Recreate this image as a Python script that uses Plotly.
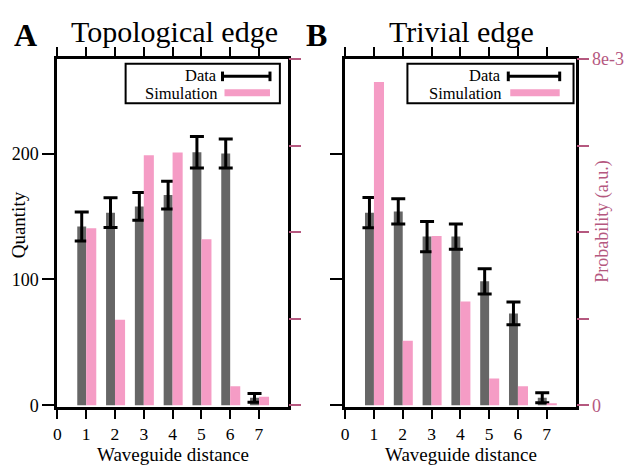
import plotly.graph_objects as go

# ---------------- data ----------------
distance = [1, 2, 3, 4, 5, 6, 7]

topo_counts = [142, 153, 158, 167, 201, 200, 6]
topo_err = [11.5, 11.8, 11, 11, 12.5, 11.5, 3.5]
topo_sim = [4.09e-3, 1.98e-3, 5.78e-3, 5.84e-3, 3.84e-3, 0.44e-3, 0.20e-3]

triv_counts = [153, 154, 134, 134, 98.5, 73, 6]
triv_err = [12, 10, 12, 10, 10, 9, 4]
triv_sim = [7.47e-3, 1.49e-3, 3.91e-3, 2.40e-3, 0.62e-3, 0.44e-3, 0.05e-3]

x_ticks = [0, 1, 2, 3, 4, 5, 6, 7]
q_ticks = [0, 100, 200]
p_ticks = [0, 2e-3, 4e-3, 6e-3, 8e-3]
p_ticktext_b = ["0", "", "", "", "8e-3"]

panel_titles = ["Topological edge", "Trivial edge"]
panel_letters = ["A", "B"]

# ---------------- style ----------------
W, H = 624, 472
FONT = "Liberation Serif"
GREY = "#666666"
PINK = "#F59CC5"
PINK_AX = "#B5587F"


def px(x):
    return x / W


def py(y):
    return 1 - y / H


fig = go.Figure()

panels = [
    dict(x="x", yl="y", yr="y2", counts=topo_counts, err=topo_err, sim=topo_sim),
    dict(x="x2", yl="y3", yr="y4", counts=triv_counts, err=triv_err, sim=triv_sim),
]

for p in panels:
    fig.add_trace(go.Bar(
        x=distance, y=p["counts"], xaxis=p["x"], yaxis=p["yl"],
        offset=-0.31, width=0.31, marker=dict(color=GREY, line=dict(width=0)),
        error_y=dict(type="data", array=p["err"], color="black", thickness=3, width=7),
        showlegend=False,
    ))
    fig.add_trace(go.Bar(
        x=distance, y=p["sim"], xaxis=p["x"], yaxis=p["yr"],
        offset=0.0, width=0.35, marker=dict(color=PINK, line=dict(width=0)),
        showlegend=False,
    ))

dom_y = [py(413), py(51)]
dom_a = [px(54), px(287)]
dom_b = [px(345), px(578)]

TICKFONT = 17.5
xcommon = dict(range=[0, 8], tickvals=x_ticks, ticks="outside", ticklen=9, tickwidth=1.5,
               tickcolor="black", showline=True, linewidth=3, linecolor="black",
               mirror="ticks", showgrid=False, zeroline=False,
               tickfont=dict(family=FONT, size=TICKFONT, color="black"))
ylcommon = dict(range=[-1.5, 275], tickvals=q_ticks, ticks="outside", ticklen=12, tickwidth=1.5,
                tickcolor="black", showline=True, linewidth=3, linecolor="black",
                mirror=True, showgrid=False, zeroline=False,
                tickfont=dict(family=FONT, size=18, color="black"))
yrcommon = dict(range=[-0.044e-3, 8e-3], tickvals=p_ticks, ticks="outside", ticklen=12,
                tickwidth=1.5, tickcolor=PINK_AX, showline=False, showgrid=False,
                zeroline=False, side="right",
                tickfont=dict(family=FONT, size=18, color=PINK_AX))

fig.update_layout(
    width=W, height=H,
    margin=dict(l=0, r=0, t=0, b=0),
    paper_bgcolor="white", plot_bgcolor="white",
    barmode="overlay",
    xaxis=dict(domain=dom_a, anchor="y", **xcommon),
    yaxis=dict(domain=dom_y, anchor="x", **ylcommon),
    yaxis2=dict(overlaying="y", anchor="x", showticklabels=False, **yrcommon),
    xaxis2=dict(domain=dom_b, anchor="y3", **xcommon),
    yaxis3=dict(domain=dom_y, anchor="x2", showticklabels=False, **ylcommon),
    yaxis4=dict(overlaying="y3", anchor="x2", ticktext=p_ticktext_b, **yrcommon),
)

ann = []
# panel letters and titles
ann.append(dict(x=px(22), y=py(26), text="<b>" + panel_letters[0] + "</b>", font=dict(family=FONT, size=32, color="black")))
ann.append(dict(x=px(316), y=py(26), text="<b>" + panel_letters[1] + "</b>", font=dict(family=FONT, size=32, color="black")))
ann.append(dict(x=px(172), y=py(22), text=panel_titles[0], font=dict(family=FONT, size=30, color="black")))
ann.append(dict(x=px(463), y=py(22), text=panel_titles[1], font=dict(family=FONT, size=30, color="black")))
# axis titles
ann.append(dict(x=px(15), y=py(223), text="Quantity", textangle=-90, font=dict(family=FONT, size=19, color="black")))
ann.append(dict(x=px(171), y=py(462), text="Waveguide distance", borderpad=0, font=dict(family=FONT, size=19, color="black")))
ann.append(dict(x=px(462), y=py(462), text="Waveguide distance", borderpad=0, font=dict(family=FONT, size=19, color="black")))
ann.append(dict(x=px(605), y=py(220), text="Probability (a.u.)", textangle=-90, font=dict(family=FONT, size=18, color=PINK_AX)))

shapes = []
# legends
for box_l, box_r, text_r, sym_l, sym_r in [(123, 279, 216, 221, 269), (408, 576, 504, 510, 562)]:
    shapes.append(dict(type="rect", xref="paper", yref="paper", x0=px(box_l), x1=px(box_r),
                       y0=py(97), y1=py(56), line=dict(color="black", width=2), fillcolor="white", layer="above"))
    shapes.append(dict(type="line", xref="paper", yref="paper", x0=px(sym_l), x1=px(sym_r),
                       y0=py(69), y1=py(69), line=dict(color="black", width=3), layer="above"))
    for sx in (sym_l, sym_r):
        shapes.append(dict(type="line", xref="paper", yref="paper", x0=px(sx), x1=px(sx),
                           y0=py(64), y1=py(74), line=dict(color="black", width=3), layer="above"))
    shapes.append(dict(type="line", xref="paper", yref="paper", x0=px(sym_l + 2), x1=px(sym_r),
                       y0=py(86), y1=py(86), line=dict(color=PINK, width=7), layer="above"))
    ann.append(dict(x=px(text_r), y=py(68), text="Data", xanchor="right", borderpad=0,
                    font=dict(family=FONT, size=16.5, color="black")))
    ann.append(dict(x=px(text_r), y=py(87), text="Simulation", xanchor="right", borderpad=0,
                    font=dict(family=FONT, size=16.5, color="black")))

for a in ann:
    a.setdefault("xref", "paper")
    a.setdefault("yref", "paper")
    a.setdefault("showarrow", False)
    a.setdefault("xanchor", "center")
    a.setdefault("yanchor", "middle")

fig.update_layout(annotations=ann, shapes=shapes)

fig.write_html(
    "out.html",
    config={"displayModeBar": False},
    post_script="document.body.style.margin='0';document.body.style.padding='0';"
                "document.documentElement.style.overflow='hidden';",
)
